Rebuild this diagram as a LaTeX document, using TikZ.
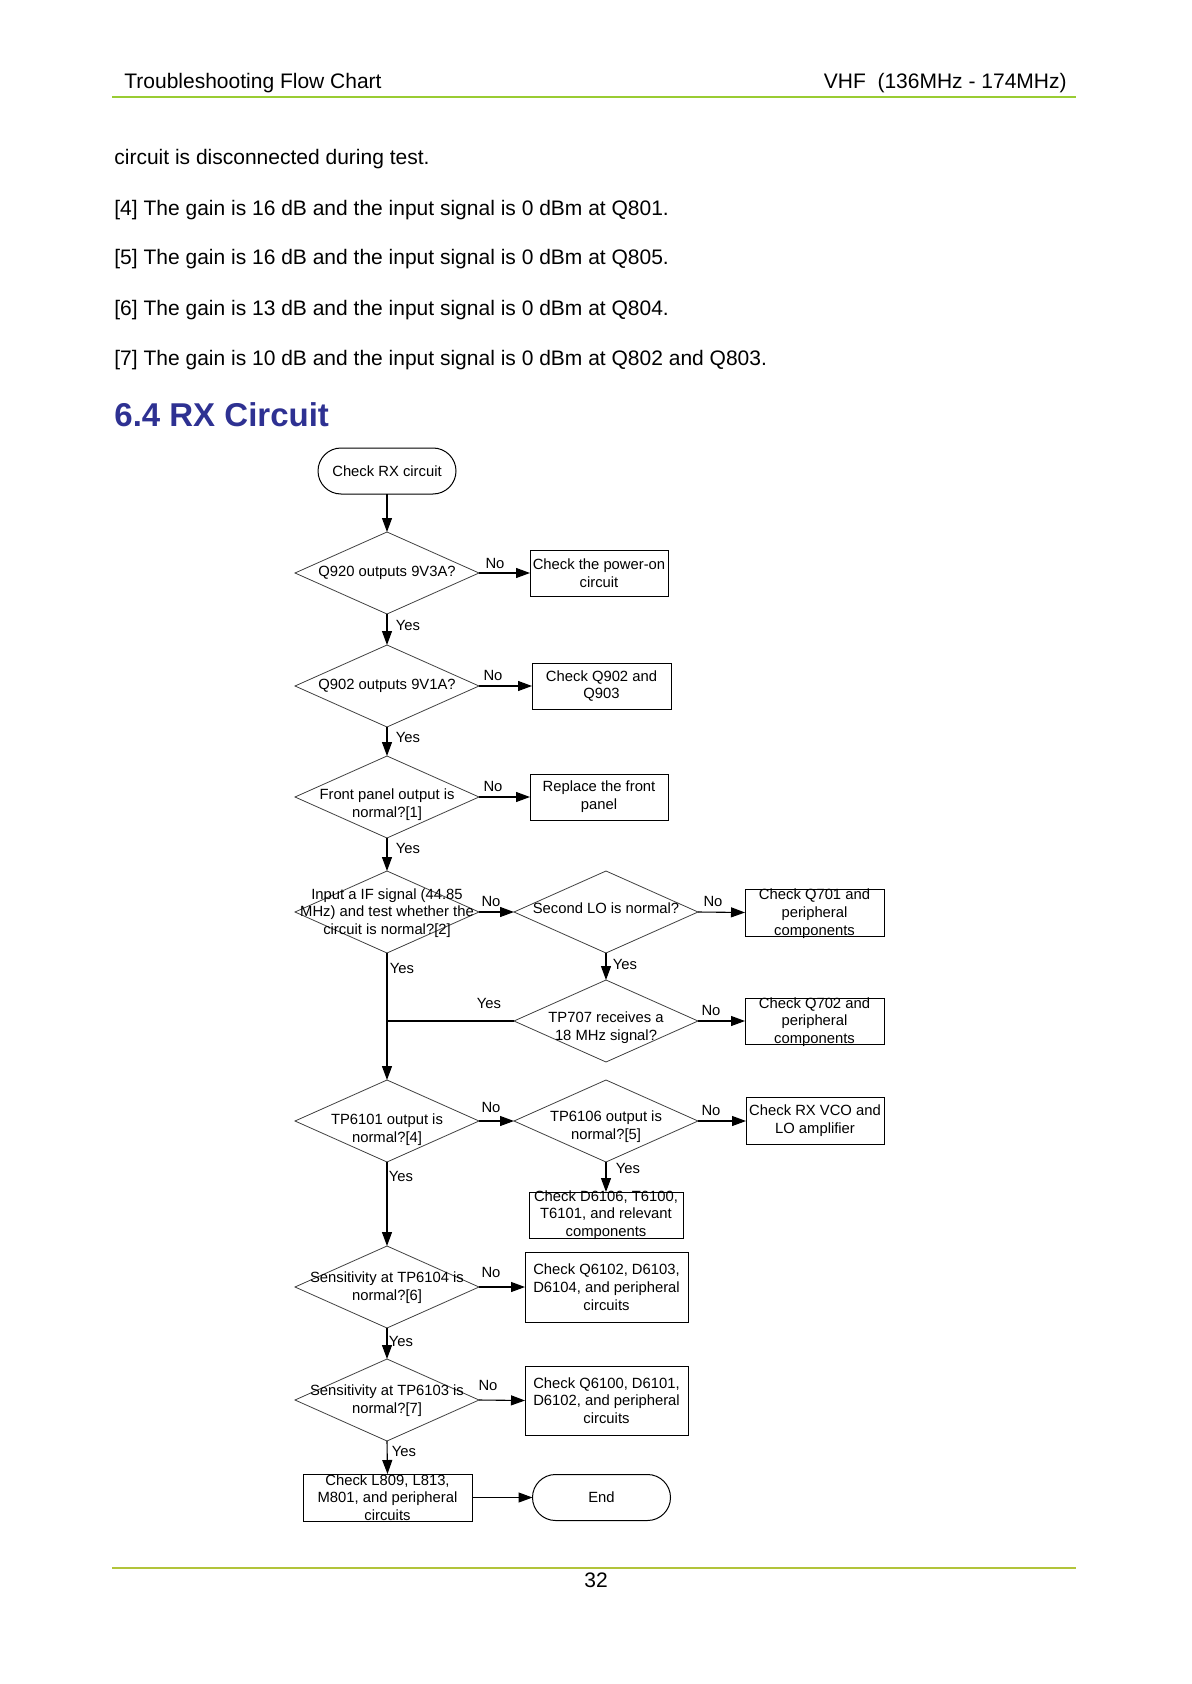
\documentclass[tikz,border=0pt]{standalone}
\usepackage{fontspec}
\setmainfont{Liberation Sans}
\usetikzlibrary{arrows.meta,shapes.geometric}
\definecolor{hdrgreen}{RGB}{153,204,51}
\definecolor{ftrgreen}{RGB}{178,196,58}
\definecolor{ttlblue}{RGB}{46,49,146}
\newcommand\fcfont{\fontsize{7.4}{8.85}\selectfont}
\newcommand\bodyfont{\fontsize{10.5}{12.6}\selectfont}
\begin{document}
\begin{tikzpicture}[x=0.5pt,y=-0.5pt,
  txt/.style={font=\fcfont, align=center, inner sep=0pt},
  lbl/.style={font=\fcfont, inner sep=0pt},
  dia/.style={shape=diamond, draw=black!75, line width=0.4pt, minimum width=92pt, minimum height=41pt, inner sep=0pt, outer sep=0pt},
  boxst/.style={draw=black, line width=0.5pt, inner sep=0pt, outer sep=0pt},
  term/.style={draw=black, line width=0.5pt, rounded corners=11.5pt, minimum width=69pt, minimum height=23pt, inner sep=0pt, outer sep=0pt, font=\fcfont},
  arr/.style={line width=0.55pt, -{Triangle[length=7pt,width=5pt]}},
  ln/.style={line width=0.55pt},
  body/.style={font=\bodyfont, anchor=base west, inner sep=0pt}]
\useasboundingbox (0,0) rectangle (1191,1684);
% header
\node[body] (hl) at (124,89) {Troubleshooting Flow Chart};
\node[font=\bodyfont, anchor=base east, inner sep=0pt] (hr) at (1067,89) {VHF\ \ (136MHz - 174MHz)};
\draw[hdrgreen, line width=1.2pt] (112,97) -- (1076,97);
% body text
\node[body] (t0) at (114,165) {circuit is disconnected during test.};
\node[body] (t4) at (114,216) {[4] The gain is 16 dB and the input signal is 0 dBm at Q801.};
\node[body] (t5) at (114,265) {[5] The gain is 16 dB and the input signal is 0 dBm at Q805.};
\node[body] (t6) at (114,316) {[6] The gain is 13 dB and the input signal is 0 dBm at Q804.};
\node[body] (t7) at (114,366) {[7] The gain is 10 dB and the input signal is 0 dBm at Q802 and Q803.};
\node[anchor=base west, inner sep=0pt, text=ttlblue, font=\fontsize{16.5}{20}\selectfont\bfseries] (title) at (114,427) {6.4 RX Circuit};
% flowchart
\node[term] (start) at (387,471) {Check RX circuit};
\node[dia] (d1) at (387,573) {};
\node[txt] at (d1) {Q920 outputs 9V3A?};
\node[boxst, minimum width=69pt, minimum height=23pt] (b1) at (599,573) {};
\node[txt] at (b1) {Check the power-on\\circuit};
\node[dia] (d2) at (387,686) {};
\node[txt] at (d2) {Q902 outputs 9V1A?};
\node[boxst, minimum width=69.5pt, minimum height=23pt] (b2) at (601.5,686) {};
\node[txt] at (b2) {Check Q902 and\\Q903};
\node[dia] (d3) at (387,797) {};
\node[txt, yshift=-4pt] at (d3) {Front panel output is\\normal?[1]};
\node[boxst, minimum width=69pt, minimum height=23pt] (b3) at (599,797) {};
\node[txt] at (b3) {Replace the front\\panel};
\node[dia] (d4) at (387,912) {};
\node[txt, yshift=-0.5pt] at (d4) {Input a IF signal (44.85\\MHz) and test whether the\\circuit is normal?[2]};
\node[dia] (d5) at (606,912) {};
\node[txt, yshift=-4pt] at (d5) {Second LO is normal?\\[3]};
\node[boxst, minimum width=69.5pt, minimum height=23.5pt] (b4) at (814.5,912.5) {};
\node[txt, yshift=-0.5pt] at (b4) {Check Q701 and\\peripheral\\components};
\node[dia] (d6) at (606,1021) {};
\node[txt, yshift=-3.5pt] at (d6) {TP707 receives a\\18 MHz signal?};
\node[boxst, minimum width=69.5pt, minimum height=23pt] (b5) at (814.5,1021) {};
\node[txt, yshift=-0.5pt] at (b5) {Check Q702 and\\peripheral\\components};
\node[dia] (d7) at (387,1121) {};
\node[txt, yshift=-4.5pt] at (d7) {TP6101 output is\\normal?[4]};
\node[dia] (d8) at (606,1121) {};
\node[txt, yshift=-3pt] at (d8) {TP6106 output is\\normal?[5]};
\node[boxst, minimum width=69pt, minimum height=23.5pt] (b6) at (815,1121) {};
\node[txt] at (b6) {Check RX VCO and\\LO amplifier};
\node[boxst, minimum width=77pt, minimum height=23pt] (b7) at (606,1215) {};
\node[txt] at (b7) {Check D6106, T6100,\\T6101, and relevant\\components};
\node[dia] (d9) at (387,1287) {};
\node[txt, yshift=-0.5pt] at (d9) {Sensitivity at TP6104 is\\normal?[6]};
\node[boxst, minimum width=81.5pt, minimum height=35pt] (b8) at (606.5,1287) {};
\node[txt] at (b8) {Check Q6102, D6103,\\D6104, and peripheral\\circuits};
\node[dia] (d10) at (387,1400) {};
\node[txt, yshift=-0.5pt] at (d10) {Sensitivity at TP6103 is\\normal?[7]};
\node[boxst, minimum width=81.5pt, minimum height=34.5pt] (b9) at (606.5,1400.5) {};
\node[txt] at (b9) {Check Q6100, D6101,\\D6102, and peripheral\\circuits};
\node[boxst, minimum width=84.5pt, minimum height=23.5pt] (b10) at (387.5,1497.5) {};
\node[txt] at (b10) {Check L809, L813,\\M801, and peripheral\\circuits};
\node[term] (end) at (601.5,1497.5) {End};
\coordinate (j1) at (387,1021);
% connectors
\draw[arr] (start.south) -- (d1.north);
\draw[arr] (d1.east) -- (b1.west);
\draw[arr] (d1.south) -- (d2.north);
\draw[arr] (d2.east) -- (b2.west);
\draw[arr] (d2.south) -- (d3.north);
\draw[arr] (d3.east) -- (b3.west);
\draw[arr] (d3.south) -- (d4.north);
\draw[arr] (d4.east) -- (d5.west);
\draw[arr] (d5.east) -- (b4.west);
\draw[arr] (d5.south) -- (d6.north);
\draw[ln] (d6.west) -- (j1);
\draw[arr] (d6.east) -- (b5.west);
\draw[arr] (d4.south) -- (d7.north);
\draw[arr] (d7.east) -- (d8.west);
\draw[arr] (d8.east) -- (b6.west);
\draw[arr] (d8.south) -- (b7.north);
\draw[arr] (d7.south) -- (d9.north);
\draw[arr] (d9.east) -- (b8.west);
\draw[arr] (d9.south) -- (d10.north);
\draw[arr] (d10.east) -- (b9.west);
\draw[arr] (d10.south) -- (b10.north);
\draw[arr] (b10.east) -- (end.west);
% labels
\node[lbl] at (495,563) {No};
\node[lbl] at (493,675) {No};
\node[lbl] at (493,786) {No};
\node[lbl] at (491,901) {No};
\node[lbl] at (713,901) {No};
\node[lbl] at (711,1010) {No};
\node[lbl] at (491,1107) {No};
\node[lbl] at (711,1110) {No};
\node[lbl] at (491,1272) {No};
\node[lbl] at (488,1385) {No};
\node[lbl] at (408,625) {Yes};
\node[lbl] at (408,737) {Yes};
\node[lbl] at (408,848) {Yes};
\node[lbl] at (402,968) {Yes};
\node[lbl] at (625,964) {Yes};
\node[lbl] at (489,1003) {Yes};
\node[lbl] at (628,1168) {Yes};
\node[lbl] at (401,1176) {Yes};
\node[lbl] at (401,1341) {Yes};
\node[lbl] at (404,1451) {Yes};
% footer
\draw[ftrgreen, line width=1.2pt] (112,1568) -- (1076,1568);
\node[font=\bodyfont, anchor=base, inner sep=0pt] (pg) at (596,1587) {32};
\end{tikzpicture}
\end{document}
